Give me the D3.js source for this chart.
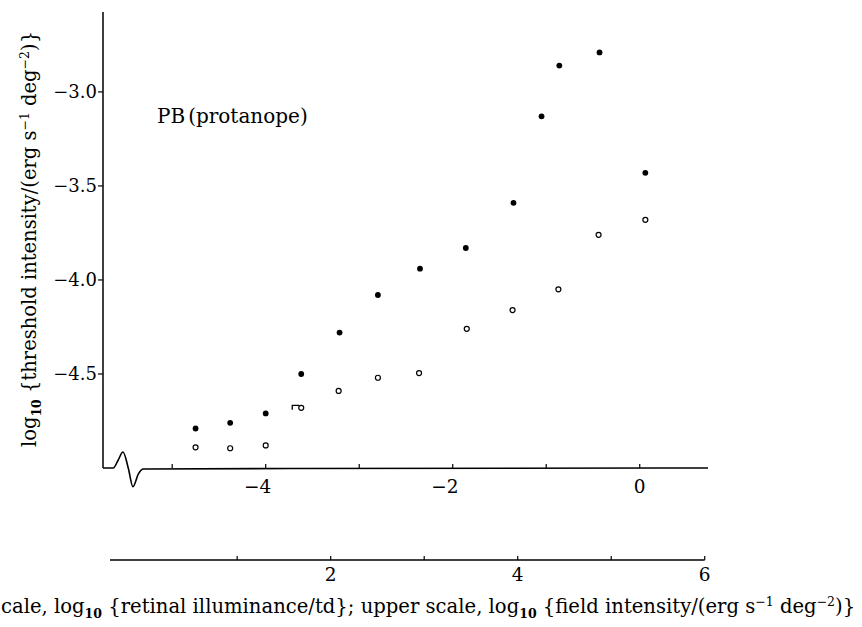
<!DOCTYPE html>
<html>
<head>
<meta charset="utf-8">
<script src="https://cdn.jsdelivr.net/npm/d3@7"></script>
<style>
  html, body { margin: 0; padding: 0; background: #fff; }
  svg { display: block; font-family: "DejaVu Serif", "Liberation Serif", serif; }
</style>
</head>
<body>
<svg id="chart" width="862" height="627"></svg>
<script>
// ---- data (lower-scale x, log10 threshold intensity y) ----
const filledX = [-4.75, -4.38, -4.0, -3.62, -3.21, -2.80, -2.35, -1.86, -1.35, -1.05, -0.86, -0.43, 0.06];
const filledY = [-4.79, -4.76, -4.71, -4.50, -4.28, -4.08, -3.94, -3.83, -3.59, -3.13, -2.86, -2.79, -3.43];
const openX   = [-4.75, -4.38, -4.0, -3.62, -3.22, -2.80, -2.36, -1.85, -1.36, -0.87, -0.44, 0.06];
const openY   = [-4.89, -4.895, -4.88, -4.68, -4.59, -4.52, -4.495, -4.26, -4.16, -4.05, -3.76, -3.68];

const yTicks = [-4.5, -4.0, -3.5, -3.0];
const yTickLabels = ["−4.5", "−4.0", "−3.5", "−3.0"];
const lowerTicks = [-5, -4, -3, -2, -1, 0];
const lowerLabels = {"-4": "−4", "-2": "−2", "0": "0"};
const upperTicks = [1, 2, 3, 4, 5, 6];
const upperLabels = {"2": "2", "4": "4", "6": "6"};

const lowerDomain = [-5.74, 0.73];
const upperDomain = [-0.435, 6.035];
const upperLineExtent = [-0.36, 6.0];
const yDomain = [-5.0, -2.575];
// axis-break wiggle on the lower axis (x in lower-scale units, y in data units)
const wiggleX = [-5.74, -5.63, -5.58, -5.526, -5.47, -5.42, -5.36, -5.31, 0.73];
const wiggleY = [-5.0, -5.0, -4.96, -4.915, -5.0, -5.10, -5.03, -5.005, -5.0];

const svg = d3.select("#chart");
const x = d3.scaleLinear().domain(lowerDomain).range([103, 708]);
const xu = d3.scaleLinear().domain(upperDomain).range([103, 708]);
const y = d3.scaleLinear().domain(yDomain).range([468, 12]);
const upperY = 560;

// y axis line
svg.append("line")
  .attr("x1", x(lowerDomain[0])).attr("x2", x(lowerDomain[0]))
  .attr("y1", y(yDomain[0])).attr("y2", y(yDomain[1]))
  .attr("stroke", "#000").attr("stroke-width", 1.5);

// y ticks & labels
const yg = svg.append("g");
yTicks.forEach((t, i) => {
  yg.append("line")
    .attr("x1", x(lowerDomain[0]) - 5).attr("x2", x(lowerDomain[0]))
    .attr("y1", y(t)).attr("y2", y(t))
    .attr("stroke", "#000").attr("stroke-width", 1.2);
  yg.append("text")
    .attr("x", x(lowerDomain[0]) - 6).attr("y", y(t) + 6.5)
    .attr("text-anchor", "end").attr("font-size", 18)
    .text(yTickLabels[i]);
});

// lower axis with break wiggle
svg.append("path")
  .datum(wiggleX.map((v, i) => [v, wiggleY[i]]))
  .attr("d", d3.line().x(d => x(d[0])).y(d => y(d[1])).curve(d3.curveMonotoneX))
  .attr("fill", "none").attr("stroke", "#000").attr("stroke-width", 1.6);

lowerTicks.forEach(t => {
  svg.append("line")
    .attr("x1", x(t)).attr("x2", x(t))
    .attr("y1", y(yDomain[0])).attr("y2", y(yDomain[0]) - 4)
    .attr("stroke", "#000").attr("stroke-width", 1.2);
  const lab = lowerLabels[String(t)];
  if (lab) {
    svg.append("text")
      .attr("x", x(t) + 5.7).attr("y", 493)
      .attr("text-anchor", "end").attr("font-size", 18.5)
      .text(lab);
  }
});

// upper scale axis
svg.append("line")
  .attr("x1", xu(upperLineExtent[0])).attr("x2", xu(upperLineExtent[1]))
  .attr("y1", upperY).attr("y2", upperY)
  .attr("stroke", "#000").attr("stroke-width", 1.4);
upperTicks.forEach(t => {
  svg.append("line")
    .attr("x1", xu(t)).attr("x2", xu(t))
    .attr("y1", upperY).attr("y2", upperY - 4)
    .attr("stroke", "#000").attr("stroke-width", 1.2);
  const lab = upperLabels[String(t)];
  if (lab) {
    svg.append("text")
      .attr("x", xu(t)).attr("y", 581)
      .attr("text-anchor", "middle").attr("font-size", 18.5)
      .text(lab);
  }
});

// data points
svg.append("g").selectAll("circle")
  .data(filledX.map((v, i) => [v, filledY[i]]))
  .join("circle")
  .attr("cx", d => x(d[0])).attr("cy", d => y(d[1]))
  .attr("r", 2.9).attr("fill", "#000");

svg.append("g").selectAll("circle")
  .data(openX.map((v, i) => [v, openY[i]]))
  .join("circle")
  .attr("cx", d => x(d[0])).attr("cy", d => y(d[1]))
  .attr("r", 2.5).attr("fill", "#fff").attr("stroke", "#000").attr("stroke-width", 1.2);

// small mark beside the 4th open point
const mx = x(openX[3]), my = y(openY[3]);
svg.append("path")
  .attr("d", `M${mx - 9},${my + 2} L${mx - 9},${my - 2.5} L${mx - 2},${my - 2.5}`)
  .attr("fill", "none").attr("stroke", "#000").attr("stroke-width", 1.3);

// annotation
const ann = svg.append("text")
  .attr("x", 157).attr("y", 123).attr("font-size", 20);
ann.append("tspan").text("PB");
ann.append("tspan").attr("dx", 3).text("(protanope)");

// y axis title
const yt = svg.append("text")
  .attr("transform", "translate(36,239) rotate(-90)")
  .attr("text-anchor", "middle").attr("font-size", 19.5);
yt.append("tspan").text("log");
yt.append("tspan").attr("font-size", 12.5).attr("font-weight", "bold").attr("dy", 5).text("10");
yt.append("tspan").attr("dy", -5).text(" {threshold intensity/(erg s");
yt.append("tspan").attr("font-size", 12.5).attr("dy", -7).text("−1");
yt.append("tspan").attr("dy", 7).text(" deg");
yt.append("tspan").attr("font-size", 12.5).attr("dy", -7).text("−2");
yt.append("tspan").attr("dy", 7).text(")}");

// x axis title (as visible in the reference, which is clipped at its left edge)
const xt = svg.append("text")
  .attr("x", 1).attr("y", 613)
  .attr("text-anchor", "start").attr("font-size", 19.6);
xt.append("tspan").text("cale, log");
xt.append("tspan").attr("font-size", 12.5).attr("font-weight", "bold").attr("dy", 5).text("10");
xt.append("tspan").attr("dy", -5).text(" {retinal illuminance/td}; upper scale, log");
xt.append("tspan").attr("font-size", 12.5).attr("font-weight", "bold").attr("dy", 5).text("10");
xt.append("tspan").attr("dy", -5).text(" {field intensity/(erg s");
xt.append("tspan").attr("font-size", 12.5).attr("dy", -7).text("−1");
xt.append("tspan").attr("dy", 7).text(" deg");
xt.append("tspan").attr("font-size", 12.5).attr("dy", -7).text("−2");
xt.append("tspan").attr("dy", 7).text(")}");
</script>
</body>
</html>
